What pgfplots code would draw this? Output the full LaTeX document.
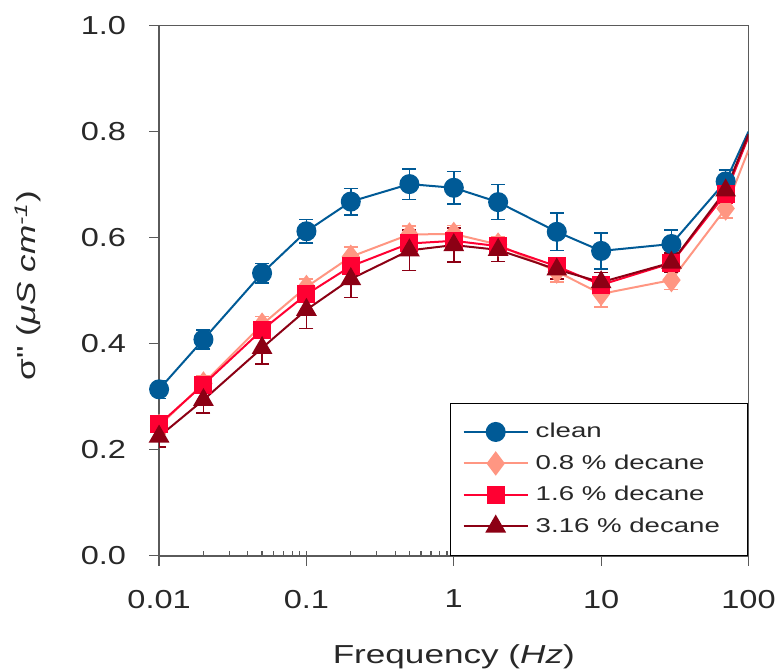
\documentclass[border=0pt]{standalone}
\usepackage{pgfplots}
\pgfplotsset{compat=1.18}
\usepackage{fontspec}
\setmainfont{Liberation Sans}[FakeStretch=1.25]
\newfontfamily\labfont{Liberation Sans}[FakeStretch=1.35]
\newfontfamily\legfont{Liberation Sans}[FakeStretch=1.38]

\definecolor{cleanblue}{RGB}{0,90,150}
\definecolor{decA}{RGB}{255,150,130}
\definecolor{decB}{RGB}{255,0,50}
\definecolor{decC}{RGB}{140,0,20}
\definecolor{axgray}{RGB}{90,90,90}
\definecolor{txt}{RGB}{40,40,40}

% frequency (Hz), sigma'' (uS/cm), error
\pgfplotstableread{
x    y     e
0.01 0.314 0.017
0.02 0.408 0.018
0.05 0.533 0.018
0.1  0.612 0.022
0.2  0.668 0.025
0.5  0.701 0.029
1    0.694 0.031
2    0.667 0.033
5    0.611 0.035
10   0.575 0.034
30   0.588 0.026
70   0.706 0.022
}\clean
\pgfplotstableread{
x    y     e
0.01 0.245 0.015
0.02 0.325 0.015
0.05 0.436 0.015
0.1  0.507 0.015
0.2  0.564 0.018
0.5  0.606 0.016
1    0.607 0.016
2    0.587 0.014
5    0.536 0.020
10   0.494 0.025
30   0.520 0.018
70   0.655 0.018
}\decA
\pgfplotstableread{
x    y     e
0.01 0.248 0.015
0.02 0.323 0.015
0.05 0.426 0.015
0.1  0.493 0.015
0.2  0.546 0.015
0.5  0.589 0.015
1    0.594 0.015
2    0.584 0.013
5    0.546 0.015
10   0.511 0.015
30   0.552 0.015
70   0.683 0.018
}\decB
\pgfplotstableread{
x    y     e
0.01 0.225 0.020
0.02 0.294 0.025
0.05 0.392 0.030
0.1  0.464 0.035
0.2  0.522 0.035
0.5  0.576 0.038
1    0.586 0.032
2    0.577 0.022
5    0.540 0.018
10   0.516 0.018
30   0.553 0.018
70   0.689 0.020
}\decC

\begin{document}
\begin{tikzpicture}
\begin{axis}[
  scale only axis,
  width=294.5pt, height=265pt,
  xmode=log,
  xmin=0.01, xmax=100, ymin=0, ymax=1,
  xtick={0.01,0.1,1,10,100},
  xticklabels={0.01,0.1,1,10,100},
  ytick={0,0.2,0.4,0.6,0.8,1.0},
  /pgf/number format/assume math mode=true,
  yticklabel style={/pgf/number format/fixed, /pgf/number format/fixed zerofill,
    /pgf/number format/precision=1, xshift=-8pt},
  tick label style={font=\fontsize{13}{15}\selectfont, text=txt},
  xticklabel style={yshift=-8.5pt},
  tick align=outside,
  major tick length=5pt,
  minor tick length=-2.3pt,
  xtick pos=bottom, ytick pos=left,
  axis line style={axgray, line width=0.7pt},
  every tick/.style={axgray, line width=0.6pt},
  xlabel={Frequency (\textit{Hz})},
  ylabel={σ" (\textit{μS cm\textsuperscript{-1}})},
  label style={font=\labfont\fontsize{13}{16}\selectfont, text=txt},
  xlabel style={at={(axis description cs:0.5,0)}, anchor=center, yshift=-50.5pt},
  ylabel style={at={(axis description cs:0,0.51)}, anchor=center, yshift=65.5pt},
  legend image code/.code={\draw[mark repeat=2, mark phase=2] plot coordinates {(0pt,0pt) (16pt,0pt) (32pt,0pt)}; \path (33.5pt,0pt);},
  legend style={at={(1,0)}, anchor=south east, draw=black, line width=0.6pt,
    font=\legfont\fontsize{10}{12}\selectfont, text=txt,
    inner xsep=6pt, inner ysep=8pt, row sep=3pt},
  legend cell align=left,
  every axis plot/.append style={line width=1pt},
  error bars/y dir=both, error bars/y explicit,
  error bars/error mark options={rotate=90, mark size=3.5pt, line width=0.8pt},
  error bars/error bar style={line width=0.8pt},
]
\addplot[forget plot, cleanblue] coordinates {(70,0.706) (100,0.800)};
\addplot[forget plot, decA] coordinates {(70,0.655) (100,0.765)};
\addplot[forget plot, decB] coordinates {(70,0.683) (100,0.790)};
\addplot[forget plot, decC] coordinates {(70,0.689) (100,0.795)};

\addplot[cleanblue, mark=*, mark size=4.5pt, mark options={solid, fill=cleanblue}]
  table[x=x, y=y, y error=e] {\clean};
\addlegendentry{\makebox[98pt][l]{clean}}
\addplot[decA, mark=diamond*, mark size=5.3pt, mark options={solid, fill=decA}]
  table[x=x, y=y, y error=e] {\decA};
\addlegendentry{0.8 \% decane}
\addplot[decB, mark=square*, mark size=4pt, mark options={solid, fill=decB}]
  table[x=x, y=y, y error=e] {\decB};
\addlegendentry{1.6 \% decane}
\addplot[decC, mark=triangle*, mark size=5pt, mark options={solid, fill=decC}]
  table[x=x, y=y, y error=e] {\decC};
\addlegendentry{3.16 \% decane}

\coordinate (bl) at (rel axis cs:0,0);
\coordinate (tr) at (rel axis cs:1,1);
\end{axis}
\pgfresetboundingbox
\path ([xshift=-79.5pt, yshift=-57.5pt]bl) rectangle ([xshift=14.75pt, yshift=12.75pt]tr);
\end{tikzpicture}
\end{document}
